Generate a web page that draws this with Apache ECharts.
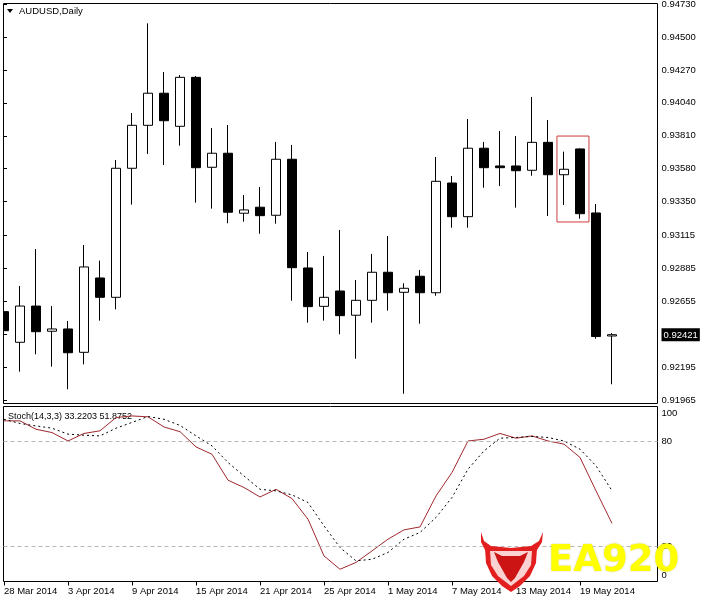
<!DOCTYPE html>
<html><head><meta charset="utf-8">
<script src="https://cdn.jsdelivr.net/npm/echarts@6/dist/echarts.min.js"></script>
<style>html,body{margin:0;padding:0;background:#fff}#c{width:701px;height:600px}</style>
</head><body><div id="c"></div>
<script>
const dates = ['28 Mar 2014','31 Mar 2014','1 Apr 2014','2 Apr 2014','3 Apr 2014','4 Apr 2014','7 Apr 2014','8 Apr 2014','9 Apr 2014','10 Apr 2014','11 Apr 2014','14 Apr 2014','15 Apr 2014','16 Apr 2014','17 Apr 2014','18 Apr 2014','21 Apr 2014','22 Apr 2014','23 Apr 2014','24 Apr 2014','25 Apr 2014','28 Apr 2014','29 Apr 2014','30 Apr 2014','1 May 2014','2 May 2014','5 May 2014','6 May 2014','7 May 2014','8 May 2014','9 May 2014','12 May 2014','13 May 2014','14 May 2014','15 May 2014','16 May 2014','19 May 2014','20 May 2014','21 May 2014'];
const opens  = [0.92582,0.92368,0.92621,0.92445,0.92461,0.92298,0.92817,0.92682,0.93583,0.93883,0.94107,0.93876,0.94218,0.93590,0.93688,0.93269,0.93311,0.93255,0.93646,0.92887,0.92619,0.92726,0.92557,0.92661,0.92857,0.92717,0.92829,0.92714,0.93480,0.93245,0.93723,0.93599,0.93599,0.93569,0.93764,0.93538,0.93718,0.93271,0.92412];
const closes = [0.92449,0.92621,0.92442,0.92461,0.92295,0.92894,0.92682,0.93583,0.93883,0.94107,0.93915,0.94218,0.93587,0.93688,0.93276,0.93292,0.93252,0.93646,0.92889,0.92617,0.92682,0.92554,0.92661,0.92857,0.92714,0.92745,0.92714,0.93492,0.93245,0.93723,0.93587,0.93587,0.93566,0.93764,0.93538,0.93576,0.93266,0.92408,0.92421];
const lows   = [0.92354,0.92163,0.92284,0.92198,0.92040,0.92214,0.92519,0.92598,0.93329,0.93683,0.93606,0.93741,0.93343,0.93301,0.93199,0.93210,0.93126,0.93196,0.92658,0.92505,0.92519,0.92424,0.92253,0.92505,0.92589,0.92009,0.92498,0.92693,0.93168,0.93168,0.93447,0.93459,0.93308,0.93531,0.93250,0.93327,0.93231,0.92393,0.92075];
const highs  = [0.92927,0.92761,0.93019,0.92621,0.92517,0.93047,0.92938,0.93641,0.93969,0.94595,0.94255,0.94234,0.94227,0.93864,0.93885,0.93396,0.93452,0.93767,0.93746,0.92998,0.92971,0.93152,0.92803,0.92985,0.93110,0.92780,0.92873,0.93662,0.93529,0.93927,0.93767,0.93843,0.93808,0.94081,0.93920,0.93699,0.93722,0.93334,0.92432];
const stochK = [91.8,91.8,87.0,85.1,80.3,84.6,86.1,93.7,94.6,94.1,88.3,85.6,76.9,72.7,57.9,53.7,48.3,52.7,47.4,35.6,14.6,7.0,10.9,17.5,24.2,29.5,31.2,48.9,62.3,80.3,81.3,84.6,81.9,83.2,80.3,78.5,70.9,51.8,33.22];
const stochD = [92.7,90.3,88.9,87.6,84.2,83.6,83.2,87.6,90.9,94.3,92.7,89.2,83.2,77.5,68.0,60.3,52.7,51.8,49.5,45.1,31.8,19.4,11.8,12.7,16.6,24.2,28.0,36.6,48.0,64.2,74.6,81.9,82.3,82.9,82.3,80.3,75.6,66.1,51.88];
const priceTicks = [0.94730,0.94500,0.94270,0.94040,0.93810,0.93580,0.93350,0.93115,0.92885,0.92655,0.92421,0.92195,0.91965];
const lastClose = 0.92421;
const stochTicks = [100,80,20,0];
const stochLevels = [80,20];
const dateTickIdx = [0,4,8,12,16,20,24,28,32,36];
const highlightBox = [[34.56,0.93808],[36.56,0.93208]];

const FONT = "'Liberation Sans', Arial, sans-serif";
const xMin = -0.03125, xMax = 40.84375;

const chart = echarts.init(document.getElementById('c'), null, {renderer:'canvas'});
chart.setOption({
  animation: false,
  backgroundColor: '#fff',
  grid: [
    {left: 3.5, top: 3.5, width: 654, height: 400, outerBoundsMode: 'none', containLabel: false, show: true, borderColor: '#000', borderWidth: 1, backgroundColor: '#fff'},
    {left: 3.5, top: 406.5, width: 654, height: 175, outerBoundsMode: 'none', containLabel: false, show: true, borderColor: '#000', borderWidth: 1, backgroundColor: '#fff'}
  ],
  xAxis: [
    {type: 'value', gridIndex: 0, min: xMin, max: xMax, axisLine: {show: false}, axisTick: {show: false}, axisLabel: {show: false}, splitLine: {show: false}},
    {type: 'value', gridIndex: 1, min: xMin, max: xMax, axisLine: {show: false},
      axisTick: {show: true, customValues: dateTickIdx, length: 4, lineStyle: {color: '#000'}},
      axisLabel: {customValues: dateTickIdx, formatter: v => dates[Math.round(v)], align: 'left', margin: 5, color: '#000', fontSize: 9.5, fontFamily: FONT},
      splitLine: {show: false}}
  ],
  yAxis: [
    {type: 'value', gridIndex: 0, position: 'right', min: 0.919406, max: 0.947335, axisLine: {show: false},
      axisTick: {show: true, customValues: priceTicks, length: 3, lineStyle: {color: '#000'}},
      axisLabel: {customValues: priceTicks, margin: 4, color: '#000', fontSize: 9.5, fontFamily: FONT,
        formatter: v => Math.abs(v - lastClose) < 1e-7 ? '{hl|' + v.toFixed(5) + '}' : v.toFixed(5),
        rich: {hl: {backgroundColor: '#000', color: '#fff', padding: [2, 2, 1, 2], fontSize: 9.5, fontFamily: FONT}}},
      splitLine: {show: false}},
    {type: 'value', gridIndex: 1, position: 'right', min: 0, max: 100, axisLine: {show: false},
      axisTick: {show: true, customValues: stochTicks, length: 3, lineStyle: {color: '#000'}},
      axisLabel: {customValues: stochTicks, margin: 4, color: '#000', fontSize: 9.5, fontFamily: FONT,
        formatter: v => v === 100 ? '{t|100}' : (v === 0 ? '{b|0}' : String(v)),
        rich: {t: {padding: [13, 0, 0, 0], fontSize: 9.5, fontFamily: FONT}, b: {padding: [0, 0, 13, 0], fontSize: 9.5, fontFamily: FONT}}},
      splitLine: {show: false}}
  ],
  series: [
    {type: 'candlestick', xAxisIndex: 0, yAxisIndex: 0, barWidth: 9,
      dimensions: ['idx','open','close','lowest','highest'],
      encode: {x: 0, y: [1, 2, 3, 4]},
      data: dates.map((d, i) => [i, opens[i], closes[i], lows[i], highs[i]]),
      itemStyle: {color: '#fff', color0: '#000', borderColor: '#000', borderColor0: '#000', borderWidth: 1},
      emphasis: {disabled: true}, silent: true,
      markArea: {silent: true, itemStyle: {color: 'rgba(0,0,0,0)', borderColor: '#d0393c', borderWidth: 1},
        data: [[{coord: highlightBox[0]}, {coord: highlightBox[1]}]]}
    },
    {type: 'line', xAxisIndex: 1, yAxisIndex: 1, data: stochK.map((v, i) => [i, v]), showSymbol: false, silent: true,
      lineStyle: {color: '#a0282d', width: 1},
      markLine: {silent: true, symbol: 'none', label: {show: false}, lineStyle: {color: '#b8b8b8', type: [4, 3], width: 1},
        data: stochLevels.map(v => ({yAxis: v}))}
    },
    {type: 'line', xAxisIndex: 1, yAxisIndex: 1, data: stochD.map((v, i) => [i, v]), showSymbol: false, silent: true,
      lineStyle: {color: '#000', width: 1, type: [2, 3]}}
  ],
  graphic: [
    {type: 'rect', z: 90, shape: {x: 0, y: 0, width: 3, height: 404}, style: {fill: '#fff'}},
    {type: 'polygon', shape: {points: [[7, 9], [13, 9], [10, 13]]}, style: {fill: '#000'}},
    {type: 'text', x: 19, y: 6, style: {text: 'AUDUSD,Daily', fill: '#000', font: '9.5px ' + FONT}},
    {type: 'text', x: 8, y: 412, style: {text: 'Stoch(14,3,3) 33.2203 51.8752', fill: '#000', font: '9px ' + FONT}},
    {type: 'polygon', z: 100, shape: {points: [[481,532],[481,542],[485,550],[495,556],[511,558],[527,556],[537,550],[542,542],[543,532],[539,541],[531,546],[511,548],[491,546],[484,541]]}, style: {fill: '#e31e1e'}},
    {type: 'polygon', z: 100, shape: {points: [[485,548],[537,548],[536,563],[530,576],[520,586],[511,592],[502,586],[492,576],[486,563]]}, style: {fill: '#e31e1e'}},
    {type: 'polygon', z: 101, shape: {points: [[490,551],[532,551],[531,565],[524,576],[511,586],[498,576],[491,565]]}, style: {fill: '#ffffff', opacity: 0.8}},
    {type: 'polygon', z: 102, shape: {points: [[494,552],[502,556],[520,556],[528,552],[524,562],[515,578],[511,582],[507,578],[498,562]]}, style: {fill: '#cc1414'}},
    {type: 'text', z: 103, x: 548, y: 543, style: {text: 'EA920', fill: '#ffff00', font: 'bold 37px "DejaVu Sans", sans-serif', textShadowColor: 'rgba(120,120,0,0.35)', textShadowBlur: 2}}
  ]
});
</script></body></html>
